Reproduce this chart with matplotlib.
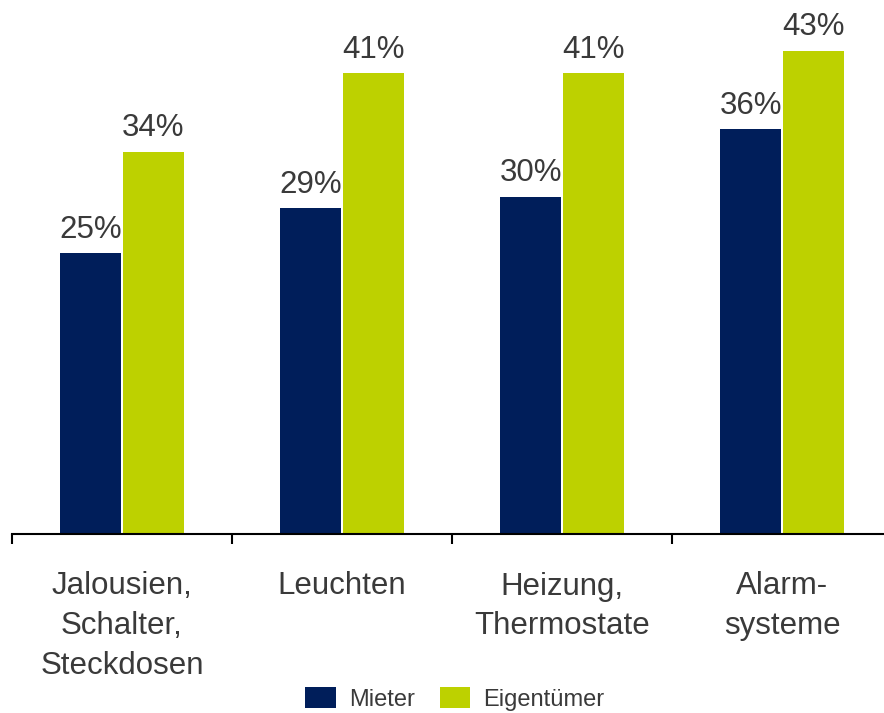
import matplotlib
matplotlib.use("Agg")
import matplotlib.pyplot as plt
from matplotlib.patches import Patch
import numpy as np

plt.rcParams['font.family'] = ['Liberation Sans', 'DejaVu Sans']

categories = ["Jalousien,\nSchalter,\nSteckdosen", "Leuchten", "Heizung,\nThermostate", "Alarm-\nsysteme"]
mieter = [25, 29, 30, 36]
eigentuemer = [34, 41, 41, 43]
series_names = ["Mieter", "Eigentümer"]

NAVY = "#001E5A"
LIME = "#BDD100"
TEXT = "#3A3A3A"

W, H, DPI = 884, 713, 100
fig = plt.figure(figsize=(W / DPI, H / DPI), dpi=DPI)
ax = fig.add_axes([12 / W, 179 / H, 880 / W, 534 / H])

x = np.arange(len(categories))
bw = 0.277
off = 0.143
b1 = ax.bar(x - off, mieter, width=bw, color=NAVY)
b2 = ax.bar(x + off, eigentuemer, width=bw, color=LIME)

for bars, vals in ((b1, mieter), (b2, eigentuemer)):
    for rect, v in zip(bars, vals):
        ax.annotate(f"{v}%", (rect.get_x() + rect.get_width() / 2, v),
                    xytext=(0, 11), textcoords="offset points",
                    ha="center", va="baseline", fontsize=22.5, color=TEXT)

ax.set_xlim(-0.5, 3.5)
ax.set_ylim(0, 47.5)
for s in ("left", "right", "top"):
    ax.spines[s].set_visible(False)
ax.spines["bottom"].set_linewidth(1.5)
ax.spines["bottom"].set_color("black")
ax.set_yticks([])

ax.set_xticks(x)
ax.set_xticklabels(categories, fontsize=22.5, color=TEXT, linespacing=1.42)
ax.tick_params(axis="x", which="major", length=0, pad=27)
ax.set_xticks(np.arange(-0.5, 4.0, 1.0), minor=True)
ax.tick_params(axis="x", which="minor", length=7.5, width=1.5, color="black", direction="out")

handles = [Patch(facecolor=NAVY, edgecolor="none"), Patch(facecolor=LIME, edgecolor="none")]
fig.legend(handles, series_names, loc="center", bbox_to_anchor=(455 / W, 1 - 699 / H),
           ncol=2, frameon=False, fontsize=17, labelcolor=TEXT,
           handlelength=1.3, handleheight=1.0, handletextpad=0.55, columnspacing=1.05,
           borderpad=0, borderaxespad=0)

fig.savefig("out.png", dpi=DPI)
